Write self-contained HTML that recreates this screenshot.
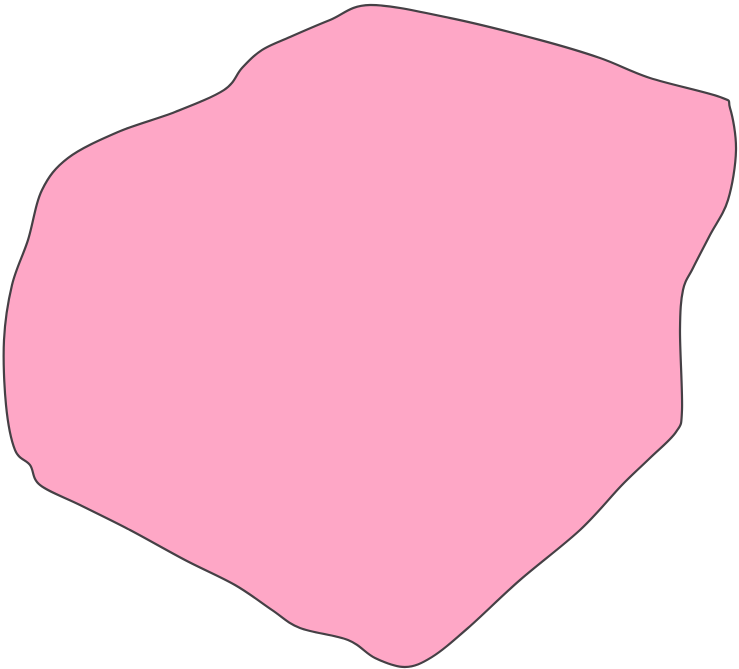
<!DOCTYPE html>
<html>
<head>
<meta charset="utf-8">
<style>
html,body{margin:0;padding:0;background:#fff;width:739px;height:669px;overflow:hidden;}
svg{display:block;}
</style>
</head>
<body>
<svg width="739" height="669" viewBox="0 0 739 669">
<path id="blob" fill="#fea7c6" stroke="#454045" stroke-width="2.2" stroke-linejoin="round"/>
</svg>
<script>
const blobX = [370,450,540,600,650,720,730,736,728,710,693,683,680,682,676,650,622,580,520,468,432,405,375,348,300,272,235,185,130,80,40,30,15,6,4,12,28,42,68,118,175,224,242,262,290,330];
const blobY = [5,18,40,58,78,97,108,150,200,235,268,290,330,410,432,458,485,530,580,628,657,667,658,640,628,610,585,560,530,505,485,465,450,405,340,285,240,190,158,132,112,90,68,50,37,20];
function smoothPath(xs, ys){
  const n = xs.length;
  let d = 'M' + xs[0] + ',' + ys[0];
  for(let i=0;i<n;i++){
    const p0=(i-1+n)%n, p1=i, p2=(i+1)%n, p3=(i+2)%n;
    const c1x = xs[p1] + (xs[p2]-xs[p0])/6, c1y = ys[p1] + (ys[p2]-ys[p0])/6;
    const c2x = xs[p2] - (xs[p3]-xs[p1])/6, c2y = ys[p2] - (ys[p3]-ys[p1])/6;
    d += ' C' + c1x.toFixed(1) + ',' + c1y.toFixed(1) + ' ' + c2x.toFixed(1) + ',' + c2y.toFixed(1) + ' ' + xs[p2] + ',' + ys[p2];
  }
  return d + 'Z';
}
document.getElementById('blob').setAttribute('d', smoothPath(blobX, blobY));
</script>
</body>
</html>
